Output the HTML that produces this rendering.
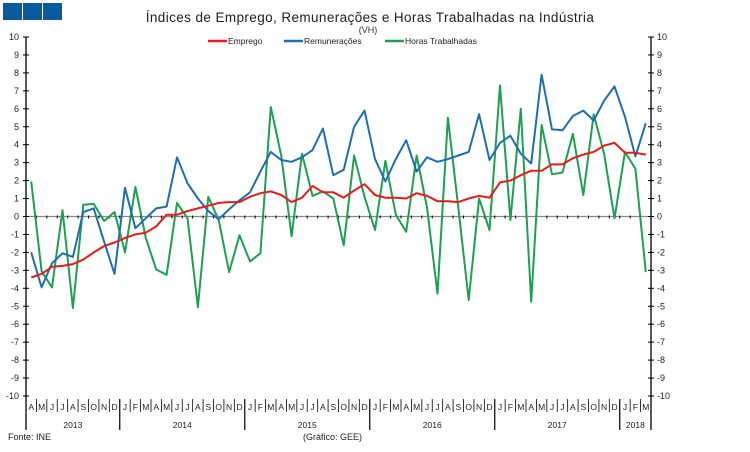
<!DOCTYPE html>
<html><head><meta charset="utf-8"><style>
body{margin:0;background:#fff;font-family:"Liberation Sans",sans-serif}
svg text{font-family:"Liberation Sans",sans-serif}
</style></head><body>
<svg id="c" width="750" height="447" viewBox="0 0 750 447">
<rect x="3" y="3" width="19" height="17" fill="#0a5aa0"/>
<rect x="23" y="3" width="19" height="17" fill="#0a5aa0"/>
<rect x="43" y="3" width="19" height="17" fill="#0a5aa0"/>
<text x="370" y="22" text-anchor="middle" font-size="13.5" fill="#222" letter-spacing="0.4">Índices de Emprego, Remunerações e Horas Trabalhadas na Indústria</text>
<text x="368" y="33" text-anchor="middle" font-size="9" fill="#333">(VH)</text>
<g font-size="8.5" fill="#222">
<line x1="208" y1="41" x2="227" y2="41" stroke="#e31c1c" stroke-width="2.5"/>
<text x="228" y="44">Emprego</text>
<line x1="284" y1="41" x2="303" y2="41" stroke="#1f6fb0" stroke-width="2.5"/>
<text x="304" y="44">Remunerações</text>
<line x1="385" y1="41" x2="404" y2="41" stroke="#1ea050" stroke-width="2.5"/>
<text x="405" y="44">Horas Trabalhadas</text>
</g>
<g id="axes"></g>
<g id="series"></g>
<text x="8" y="440" font-size="9" fill="#222">Fonte: INE</text>
<text x="303" y="440" font-size="9" fill="#222">(Gráfico: GEE)</text>
</svg>
<script>
const months=["A","M","J","J","A","S","O","N","D","J","F","M","A","M","J","J","A","S","O","N","D","J","F","M","A","M","J","J","A","S","O","N","D","J","F","M","A","M","J","J","A","S","O","N","D","J","F","M","A","M","J","J","A","S","O","N","D","J","F","M"];
const years=["2013","2014","2015","2016","2017","2018"];
const yearStart=[0,9,21,33,45,57];
const yTicks=[-10,-9,-8,-7,-6,-5,-4,-3,-2,-1,0,1,2,3,4,5,6,7,8,9,10];
const emprego=[-3.4,-3.2,-2.8,-2.75,-2.65,-2.4,-2.0,-1.65,-1.45,-1.2,-1.0,-0.9,-0.55,0.1,0.1,0.3,0.45,0.6,0.75,0.8,0.8,1.1,1.3,1.4,1.2,0.8,1.05,1.7,1.35,1.35,1.05,1.45,1.8,1.2,1.05,1.05,1.0,1.3,1.15,0.85,0.85,0.8,1.0,1.15,1.05,1.9,2.0,2.3,2.55,2.55,2.9,2.9,3.25,3.45,3.6,3.95,4.1,3.55,3.55,3.45];
const remuneracoes=[-2.0,-3.95,-2.6,-2.05,-2.25,0.25,0.45,-1.4,-3.2,1.6,-0.65,-0.1,0.45,0.55,3.3,1.85,1.0,0.3,-0.15,0.4,0.9,1.35,2.5,3.6,3.15,3.05,3.3,3.7,4.9,2.3,2.6,5.0,5.9,3.2,1.95,3.2,4.25,2.5,3.3,3.05,3.2,3.4,3.6,5.7,3.15,4.1,4.5,3.5,2.95,7.9,4.85,4.8,5.6,5.9,5.35,6.45,7.25,5.55,3.35,5.2];
const horas=[1.95,-3.05,-3.95,0.35,-5.1,0.65,0.7,-0.25,0.25,-2.0,1.65,-1.2,-2.95,-3.25,0.75,-0.1,-5.05,1.1,-0.2,-3.1,-1.05,-2.5,-2.05,6.1,3.4,-1.1,3.5,1.15,1.4,1.0,-1.6,3.4,1.1,-0.75,3.1,0.1,-0.85,3.4,0.5,-4.3,5.5,0.5,-4.65,1.0,-0.75,7.3,-0.2,6.0,-4.75,5.1,2.35,2.45,4.6,1.2,5.7,3.5,-0.1,3.6,2.65,-3.1];

const NS="http://www.w3.org/2000/svg";
const L=26,R=651,T=37,B=396;
const n=months.length, cw=(R-L)/n;
function X(i){return L+cw*(i+0.5);}
function Y(v){return B-(v+10)/20*(B-T);}
function mk(tag,attrs,parent){const e=document.createElementNS(NS,tag);for(const k in attrs)e.setAttribute(k,attrs[k]);parent.appendChild(e);return e;}
const ax=document.getElementById('axes'), sg=document.getElementById('series');
// axes lines
let e=mk('line',{x1:L,y1:T,x2:L,y2:430,stroke:'#000','stroke-width':1.3},ax);


e=mk('line',{x1:R,y1:T,x2:R,y2:430,stroke:'#000','stroke-width':1.3},ax);


e=mk('line',{x1:L,y1:Y(0),x2:R,y2:Y(0),stroke:'#888','stroke-width':1.3},ax);


yTicks.forEach(v=>{
  mk('line',{x1:L-3,y1:Y(v),x2:L+3,y2:Y(v),stroke:'#000'},ax);
  mk('line',{x1:R-3,y1:Y(v),x2:R+3,y2:Y(v),stroke:'#000'},ax);
  let t=mk('text',{x:19,y:Y(v)+3,'text-anchor':'end','font-size':9,fill:'#222'},ax);t.textContent=v;
  
  
  t=mk('text',{x:657,y:Y(v)+3,'font-size':9,fill:'#222'},ax);t.textContent=v;
  
  
});
for(let i=1;i<n;i++){
  mk('line',{x1:L+cw*i,y1:Y(0)-1,x2:L+cw*i,y2:Y(0)+2,stroke:'#000'},ax);
  const isYear=yearStart.indexOf(i)>=0;
  mk('line',{x1:L+cw*i,y1:399,x2:L+cw*i,y2:isYear?430:412,stroke:'#000','stroke-width':isYear?1.2:0.8},ax);
}
months.forEach((m,i)=>{
  const t=mk('text',{x:X(i),y:410,'text-anchor':'middle','font-size':8.5,fill:'#222'},ax);t.textContent=m;
  
  
});
years.forEach((y,k)=>{
  const s=yearStart[k], en=k+1<yearStart.length?yearStart[k+1]:n;
  const t=mk('text',{x:(X(s)+X(en-1))/2,y:428,'text-anchor':'middle','font-size':8.5,fill:'#222'},ax);t.textContent=y;
  
  
});
function line(data,color,name){
  const p=mk('polyline',{points:data.map((v,i)=>X(i).toFixed(1)+','+Y(v).toFixed(1)).join(' '),fill:'none',stroke:color,'stroke-width':2,'stroke-linejoin':'round'},sg);
  
  
}
line(horas,'#1ea050','horas-trabalhadas-line');
line(remuneracoes,'#1f6fb0','remuneracoes-line');
line(emprego,'#e31c1c','emprego-line');
</script>
</body></html>
